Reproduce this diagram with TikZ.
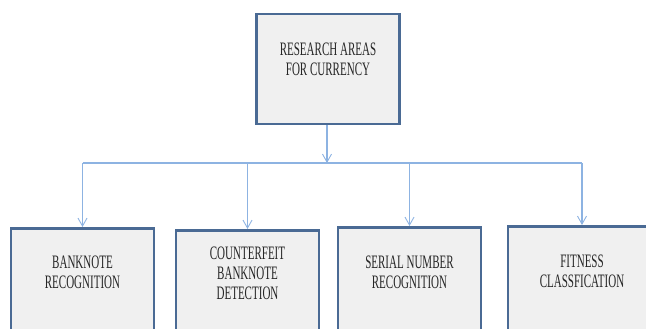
\documentclass[tikz,border=0pt]{standalone}
\usepackage{fontspec}
\setmainfont[FakeStretch=0.58]{Liberation Serif}
\usetikzlibrary{arrows.meta}
\definecolor{boxline}{HTML}{4A6A94}
\definecolor{boxfill}{HTML}{F0F0F0}
\definecolor{linkline}{HTML}{8DB3E2}
\begin{document}
\begin{tikzpicture}[x=1pt,y=-1pt]
            \tikzstyle{area} = [rectangle, draw=boxline, fill=boxfill, line width=2.6pt, minimum width=143pt, inner sep=0pt]
            \tikzstyle{label} = [align=center, font=\fontsize{19}{20}\selectfont, inner sep=0pt, text=black!85]
            \tikzstyle{link} = [draw=linkline, line width=1.1pt]
            \tikzstyle{arrow} = [link, -{Straight Barb[length=8pt,width=9pt,line width=0.9pt]}]

            \useasboundingbox (0,0) rectangle (646,329);
            \clip (0,0) rectangle (646,329);

            \node (root) [area, minimum height=110pt] at (328,69) {};
            \node (roottext) [label] at (328,59) {RESEARCH AREAS\\FOR CURRENCY};

            \node (banknote) [area, anchor=north, minimum height=130pt] at (82.5,227) {};
            \node (counterfeit) [area, anchor=north, minimum height=130pt] at (247.5,229) {};
            \node (serial) [area, anchor=north, minimum height=130pt] at (409.5,226) {};
            \node (fitness) [area, anchor=north, minimum height=130pt, minimum width=148pt] at (582,225) {};

            \node (banknotetext) [label] at (82.5,272) {BANKNOTE\\RECOGNITION};
            \node (counterfeittext) [label] at (247.5,273) {COUNTERFEIT\\BANKNOTE\\DETECTION};
            \node (serialtext) [label] at (409.5,272) {SERIAL NUMBER\\RECOGNITION};
            \node (fitnesstext) [label] at (582,271) {FITNESS\\CLASSFICATION};

            \coordinate (hub) at (327,163);

            \draw [arrow] (root.south -| hub) -- (hub);
            \draw [link] (banknote.north |- hub) -- (fitness.north |- hub);
            \draw [arrow] (banknote.north |- hub) -- (banknote.north);
            \draw [arrow] (counterfeit.north |- hub) -- (counterfeit.north);
            \draw [arrow] (serial.north |- hub) -- (serial.north);
            \draw [arrow] (fitness.north |- hub) -- (fitness.north);
        \end{tikzpicture}
\end{document}
